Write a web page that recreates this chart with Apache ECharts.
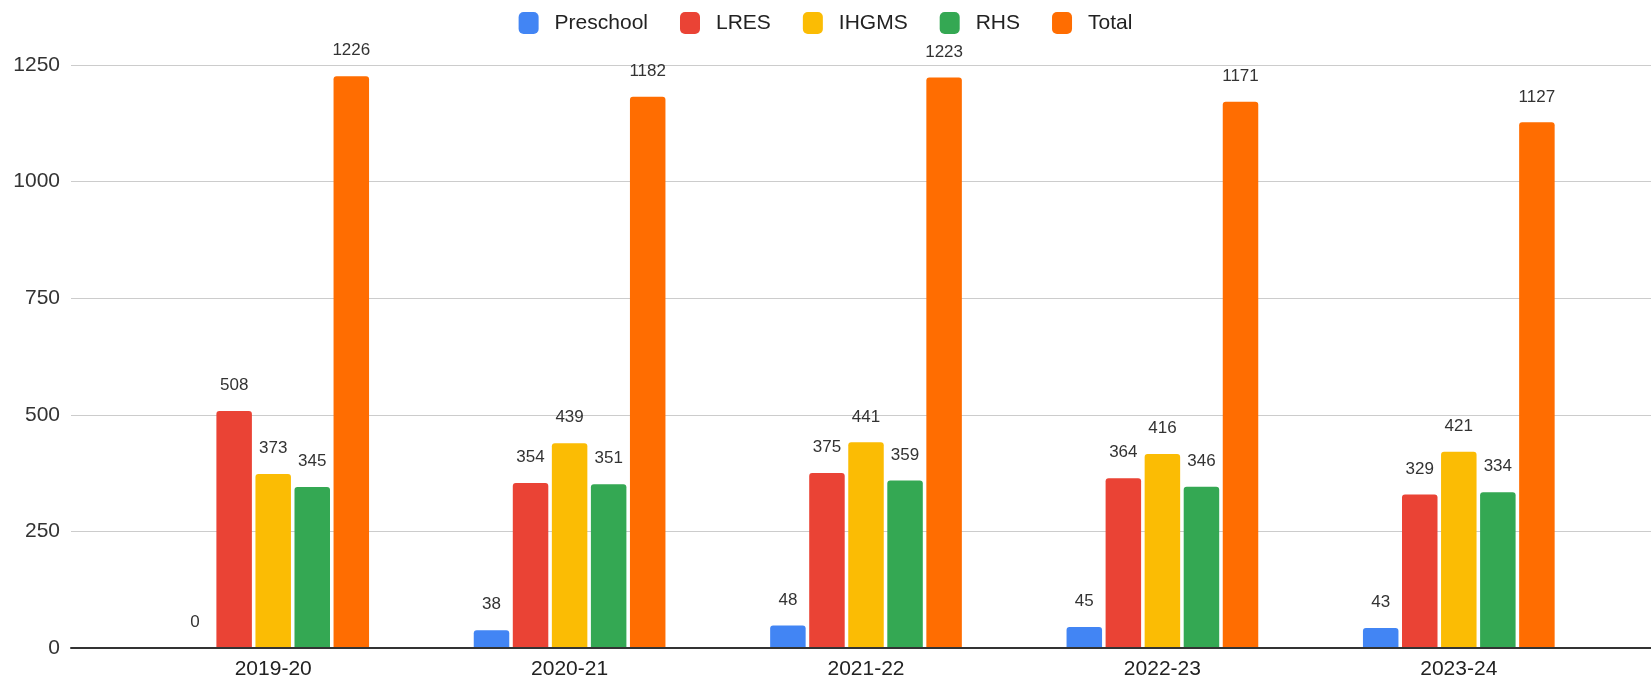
<!DOCTYPE html>
<html>
<head>
<meta charset="utf-8">
<script src="https://cdn.jsdelivr.net/npm/echarts@6/dist/echarts.min.js"></script>
<style>
  html, body { margin: 0; padding: 0; background: #fff; }
  #chart { width: 1651px; height: 683px; }
</style>
</head>
<body>
<div id="chart"></div>
<script>
// Enrollment by school year
const years = ['2019-20', '2020-21', '2021-22', '2022-23', '2023-24'];
const preschool = [0, 38, 48, 45, 43];
const lres = [508, 354, 375, 364, 329];
const ihgms = [373, 439, 441, 416, 421];
const rhs = [345, 351, 359, 346, 334];
const total = [1226, 1182, 1223, 1171, 1127];
const yTicks = { min: 0, max: 1250, step: 250 };

const seriesDefs = [
  { name: 'Preschool', data: preschool, color: '#4285F4' },
  { name: 'LRES', data: lres, color: '#EA4335' },
  { name: 'IHGMS', data: ihgms, color: '#FBBC04' },
  { name: 'RHS', data: rhs, color: '#34A853' },
  { name: 'Total', data: total, color: '#FF6D01' }
];

const font = 'Arial, "Liberation Sans", sans-serif';
const chart = echarts.init(document.getElementById('chart'), null, { renderer: 'canvas' });

chart.setOption({
  animation: false,
  backgroundColor: '#fff',
  textStyle: { fontFamily: font },
  legend: {
    top: 7,
    left: 'center',
    icon: 'roundRect',
    itemWidth: 20,
    itemHeight: 22,
    itemGap: 32,
    textStyle: { fontSize: 21, color: '#222', fontFamily: font, padding: [0, 0, 0, 11] },
    data: seriesDefs.map(s => s.name)
  },
  grid: [
    // bar area
    { left: 125, right: 44, top: 65, bottom: 35, containLabel: false },
    // full-width frame for gridlines, value labels and baseline
    { left: 71, right: 0, top: 65, bottom: 35, containLabel: false }
  ],
  xAxis: [
    {
      type: 'category',
      gridIndex: 0,
      data: years,
      axisLine: { show: false },
      axisTick: { show: false },
      axisLabel: { fontSize: 21, color: '#222', margin: 11, fontFamily: font }
    },
    {
      type: 'value',
      gridIndex: 1,
      min: 0,
      max: 1,
      z: 3,
      axisLine: { show: true, lineStyle: { color: '#333', width: 2 } },
      axisTick: { show: false },
      axisLabel: { show: false },
      splitLine: { show: false }
    }
  ],
  yAxis: [
    {
      type: 'value',
      gridIndex: 0,
      min: yTicks.min,
      max: yTicks.max,
      interval: yTicks.step,
      show: false
    },
    {
      type: 'value',
      gridIndex: 1,
      min: yTicks.min,
      max: yTicks.max,
      interval: yTicks.step,
      axisLine: { show: false },
      axisTick: { show: false },
      axisLabel: {
        fontSize: 21,
        color: '#333',
        margin: 11,
        fontFamily: font,
        formatter: v => String(v)
      },
      splitLine: { show: true, lineStyle: { color: '#cccccc', width: 1 } }
    }
  ],
  series: seriesDefs.map(s => ({
    name: s.name,
    type: 'bar',
    xAxisIndex: 0,
    yAxisIndex: 0,
    data: s.data,
    barWidth: 35.5,
    barGap: '10%',
    itemStyle: { color: s.color, borderRadius: [3, 3, 0, 0] },
    label: {
      show: true,
      position: 'top',
      distance: 17,
      fontSize: 17,
      color: '#333',
      fontFamily: font
    }
  }))
});
</script>
</body>
</html>
